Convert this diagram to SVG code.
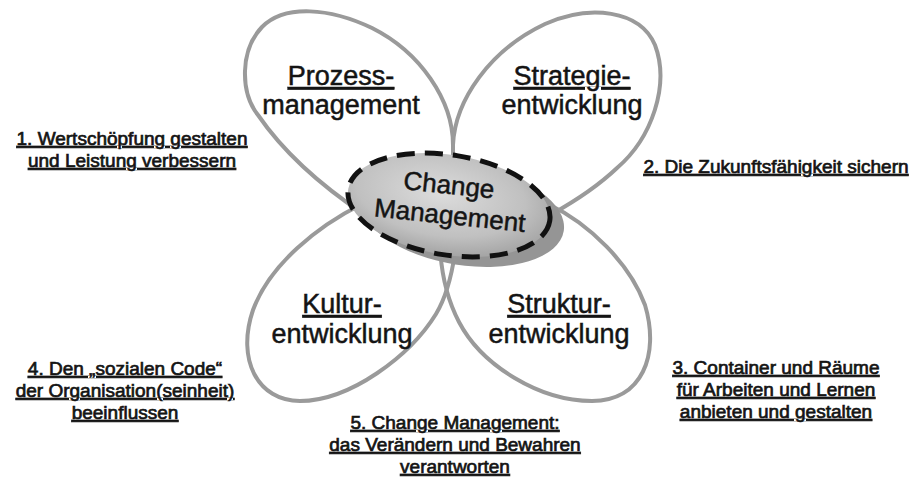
<svg xmlns="http://www.w3.org/2000/svg" width="921" height="477" viewBox="0 0 921 477">
  <defs>
    <radialGradient id="coreFill" cx="0.45" cy="0.4" r="0.6">
      <stop offset="0" stop-color="#dcdcdc"/>
      <stop offset="0.7" stop-color="#c0c0c0"/>
      <stop offset="1" stop-color="#a6a6a6"/>
    </radialGradient>
    <style>
      .petal { fill: none; stroke: #9a9a9a; stroke-width: 4; stroke-linecap: round; }
      .petal-label { font-family: "Liberation Sans", Arial, sans-serif; font-size: 27px; fill: #141414; stroke: #141414; stroke-width: 0.5; text-anchor: middle; }
      .goal { font-family: "Liberation Sans", Arial, sans-serif; font-size: 19px; fill: #141414; stroke: #141414; stroke-width: 0.7; text-anchor: middle; text-decoration: underline; }
      .core-label { font-family: "Liberation Sans", Arial, sans-serif; font-size: 26px; fill: #141414; stroke: #141414; stroke-width: 0.5; text-anchor: middle; }
      .u { text-decoration: underline; }
    </style>
  </defs>

  <rect width="921" height="477" fill="#ffffff"/>

  <!-- four petals around the core -->
  <g id="prozessmanagement">
    <path class="petal" d="M453,190 L453,145 C453,100 420,52 372,28 C330,8 285,4 262,27 C240,50 240,92 258,115 C282,150 320,185 365,215"/>
    <text class="petal-label" x="341" y="85"><tspan class="u">Prozess-</tspan></text>
    <text class="petal-label" x="341" y="114">management</text>
  </g>

  <g id="strategieentwicklung">
    <path class="petal" d="M453,190 L453,145 C455,100 490,50 545,24 C590,4 640,10 655,45 C670,85 652,138 617,168 C597,187 577,200 552,214"/>
    <text class="petal-label" x="572" y="85"><tspan class="u">Strategie-</tspan></text>
    <text class="petal-label" x="572" y="114">entwicklung</text>
  </g>

  <g id="kulturentwicklung">
    <path class="petal" d="M362,204 C318,226 270,264 253,310 C236,360 258,401 300,401 C350,401 410,356 436,314 C448,294 453,270 456,245"/>
    <text class="petal-label" x="342" y="313"><tspan class="u">Kultur-</tspan></text>
    <text class="petal-label" x="342" y="343">entwicklung</text>
  </g>

  <g id="strukturentwicklung">
    <path class="petal" d="M548,204 C590,224 630,264 645,305 C660,355 642,401 592,401 C540,401 482,366 459,322 C446,297 441,272 440,245"/>
    <text class="petal-label" x="559" y="313"><tspan class="u">Struktur-</tspan></text>
    <text class="petal-label" x="559" y="343">entwicklung</text>
  </g>

  <!-- core: shadow, dashed ellipse, label -->
  <g id="change-management">
    <ellipse cx="463" cy="215" rx="102" ry="50" transform="rotate(9 463 215)" fill="#959595"/>
    <ellipse cx="449" cy="205" rx="102" ry="50" transform="rotate(9 449 205)" fill="url(#coreFill)" stroke="#111111" stroke-width="5" stroke-dasharray="18 10"/>
    <g transform="rotate(6 449 205)">
      <text class="core-label" x="447" y="194">Change</text>
      <text class="core-label" x="451" y="224">Management</text>
    </g>
  </g>

  <!-- goals around the flower -->
  <g id="goal-1">
    <text class="goal" x="132" y="145">1. Wertschöpfung gestalten</text>
    <text class="goal" x="132" y="167">und Leistung verbessern</text>
  </g>
  <g id="goal-2">
    <text class="goal" x="776" y="173">2. Die Zukunftsfähigkeit sichern</text>
  </g>
  <g id="goal-3">
    <text class="goal" x="776" y="374">3. Container und Räume</text>
    <text class="goal" x="776" y="396">für Arbeiten und Lernen</text>
    <text class="goal" x="776" y="418">anbieten und gestalten</text>
  </g>
  <g id="goal-4">
    <text class="goal" x="125" y="375">4. Den „sozialen Code“</text>
    <text class="goal" x="125" y="397">der Organisation(seinheit)</text>
    <text class="goal" x="125" y="419">beeinflussen</text>
  </g>
  <g id="goal-5">
    <text class="goal" x="455" y="429">5. Change Management:</text>
    <text class="goal" x="455" y="451">das Verändern und Bewahren</text>
    <text class="goal" x="455" y="473">verantworten</text>
  </g>
</svg>
